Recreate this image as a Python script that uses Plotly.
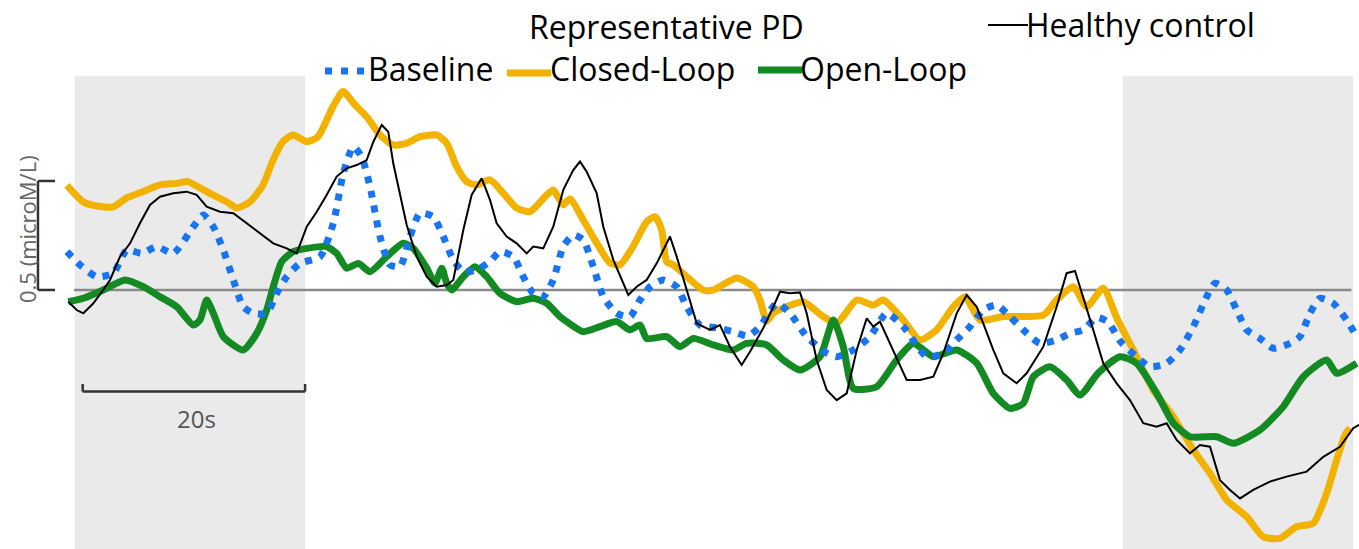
import plotly.graph_objects as go

# ---------------- data (time in s, concentration change in microM/L) ----------------
closed_t = [0.0, 1.44, 2.67, 4.14, 5.37, 6.83, 8.36, 9.87, 10.88, 11.96, 13.13, 14.36, 15.26, 16.46,
            17.63, 18.53, 19.42, 20.32, 21.56, 22.57, 23.92, 24.82, 25.90, 26.95, 28.15, 29.32, 30.55,
            31.74, 33.25, 34.15, 35.04, 35.94, 36.84, 38.04, 39.21, 40.44, 41.64, 43.14, 43.73, 44.63,
            45.23, 46.43, 47.63, 48.83, 49.73, 50.90, 52.13, 52.88, 53.48, 53.93, 54.52, 55.73, 57.22,
            58.12, 60.22, 61.72, 62.32, 62.92, 63.52, 64.72, 66.21, 68.01, 69.22, 71.02, 72.51, 73.41,
            75.21, 76.71, 78.21, 79.70, 80.76, 82.10, 84.20, 87.80, 89.00, 90.49, 91.70, 93.19, 94.40,
            95.89, 97.69, 99.49, 101.29, 102.79, 104.29, 106.09, 107.58, 109.08, 110.58, 112.08, 113.28,
            114.18, 114.93, 115.38]
closed_y = [0.48, 0.405, 0.385, 0.381, 0.422, 0.451, 0.482, 0.489, 0.497, 0.468, 0.436, 0.405, 0.376, 0.405,
            0.482, 0.596, 0.680, 0.711, 0.680, 0.703, 0.841, 0.910, 0.849, 0.795, 0.711, 0.665, 0.673,
            0.703, 0.711, 0.673, 0.566, 0.497, 0.482, 0.505, 0.445, 0.376, 0.359, 0.436, 0.459, 0.390,
            0.417, 0.321, 0.216, 0.124, 0.115, 0.199, 0.313, 0.336, 0.275, 0.130, 0.115, 0.061, 0.0,
            0.0, 0.055, 0.015, -0.046, -0.142, -0.106, -0.077, -0.054, -0.122, -0.153, -0.046, -0.069, -0.046,
            -0.138, -0.229, -0.183, -0.077, -0.031, -0.138, -0.122, -0.115, -0.046, 0.015, -0.077, 0.008, -0.128,
            -0.275, -0.459, -0.581, -0.734, -0.841, -0.963, -1.040, -1.132, -1.139, -1.086, -1.070, -0.933,
            -0.780, -0.665, -0.633]

open_t = [0.12, 1.47, 3.26, 5.22, 6.86, 8.36, 9.87, 11.36, 11.96, 12.56, 13.16, 14.06, 15.85, 17.06,
          17.96, 18.55, 19.31, 20.35, 21.56, 23.35, 24.25, 25.15, 26.20, 27.25, 28.75, 30.24, 31.14,
          32.35, 33.09, 33.70, 34.15, 34.60, 35.64, 36.69, 37.74, 38.94, 40.44, 41.93, 43.14, 44.33,
          44.94, 46.43, 47.93, 49.43, 50.63, 51.53, 52.13, 53.93, 55.13, 56.32, 58.12, 59.92, 61.12,
          62.92, 64.42, 65.92, 67.72, 68.91, 69.81, 70.71, 72.81, 74.61, 76.11, 77.91, 80.01, 81.81,
          83.30, 84.80, 86.00, 86.90, 88.40, 89.90, 91.10, 92.72, 94.69, 96.19, 98.00, 99.49, 100.99,
          103.39, 104.89, 107.28, 109.38, 111.18, 113.28, 114.18, 115.98]
open_y = [-0.054, -0.038, 0.0, 0.046, 0.015, -0.031, -0.077, -0.161, -0.138, -0.046, -0.107, -0.214, -0.275, -0.199,
          -0.092, 0.015, 0.130, 0.176, 0.191, 0.199, 0.168, 0.100, 0.122, 0.084, 0.153, 0.214, 0.191,
          0.100, 0.031, 0.100, 0.031, 0.0, 0.061, 0.107, 0.061, -0.015, -0.054, -0.038, -0.061, -0.122,
          -0.145, -0.191, -0.168, -0.145, -0.183, -0.161, -0.222, -0.214, -0.260, -0.222, -0.252, -0.275, -0.245,
          -0.252, -0.321, -0.367, -0.306, -0.138, -0.260, -0.451, -0.444, -0.321, -0.245, -0.306, -0.275, -0.336,
          -0.474, -0.543, -0.520, -0.398, -0.352, -0.413, -0.482, -0.382, -0.306, -0.336, -0.474, -0.611, -0.673,
          -0.673, -0.703, -0.642, -0.535, -0.398, -0.321, -0.382, -0.336]

base_t = [0.0, 1.17, 2.67, 4.16, 5.37, 6.72, 8.07, 9.56, 11.36, 12.26, 13.16, 14.06, 14.96, 15.85,
          16.75, 17.96, 18.86, 19.76, 20.95, 22.75, 23.95, 24.85, 25.75, 26.50, 27.25, 28.15, 29.05,
          29.95, 30.85, 31.74, 32.94, 33.84, 34.74, 35.64, 36.84, 38.04, 38.94, 40.14, 41.03, 41.93,
          42.83, 43.73, 44.63, 45.53, 46.43, 47.33, 48.23, 49.43, 50.63, 51.53, 52.43, 53.62, 54.83,
          55.73, 56.92, 58.42, 59.92, 61.24, 62.32, 63.82, 65.02, 66.52, 68.32, 69.22, 70.71, 72.21,
          73.71, 75.21, 77.31, 78.81, 80.01, 81.21, 82.40, 83.60, 84.80, 86.00, 87.50, 89.00, 90.20,
          91.39, 92.60, 93.62, 94.78, 96.19, 97.39, 98.89, 100.09, 101.29, 102.49, 103.24, 104.29,
          105.19, 106.09, 107.28, 108.48, 109.98, 110.88, 111.78, 112.68, 113.88, 115.08, 115.98]
base_y = [0.176, 0.115, 0.061, 0.077, 0.183, 0.168, 0.199, 0.168, 0.290, 0.344, 0.290, 0.183, 0.046, -0.077,
          -0.107, -0.107, -0.015, 0.061, 0.122, 0.153, 0.306, 0.535, 0.657, 0.611, 0.474, 0.245, 0.115,
          0.107, 0.245, 0.352, 0.336, 0.245, 0.138, 0.084, 0.092, 0.130, 0.176, 0.153, 0.061, -0.015,
          -0.031, 0.046, 0.199, 0.252, 0.229, 0.107, -0.031, -0.107, -0.122, -0.046, 0.015, 0.046, 0.015,
          -0.077, -0.161, -0.174, -0.191, -0.211, -0.168, -0.061, -0.107, -0.214, -0.290, -0.306, -0.275, -0.214,
          -0.107, -0.168, -0.306, -0.290, -0.229, -0.168, -0.092, -0.069, -0.122, -0.183, -0.245, -0.229, -0.199,
          -0.183, -0.126, -0.147, -0.239, -0.306, -0.352, -0.336, -0.275, -0.168, -0.031, 0.031, 0.0,
          -0.092, -0.183, -0.222, -0.267, -0.245, -0.214, -0.107, -0.038, -0.061, -0.138, -0.214]

healthy_t = [0.12, 0.87, 1.47, 2.37, 3.26, 3.87, 4.77, 5.67, 6.56, 7.46, 8.36, 9.56, 10.76, 11.66,
             12.56, 13.76, 14.96, 16.16, 17.36, 18.55, 19.76, 20.66, 21.56, 22.46, 23.35, 24.25, 25.15,
             26.05, 26.95, 27.55, 28.30, 28.89, 29.34, 29.95, 30.55, 31.45, 32.35, 33.25, 34.15, 34.74,
             35.64, 36.39, 37.29, 38.04, 38.64, 39.54, 40.44, 41.34, 41.93, 42.83, 43.73, 44.63, 45.53,
             46.13, 46.73, 47.63, 48.23, 49.13, 50.03, 50.48, 51.23, 52.13, 53.03, 54.23, 54.83, 55.73,
             56.63, 57.82, 58.72, 59.62, 60.67, 61.42, 62.62, 63.52, 64.12, 65.02, 65.92, 66.52, 67.42,
             68.32, 69.22, 70.12, 71.02, 71.92, 72.51, 73.11, 74.01, 75.51, 76.71, 77.91, 78.81, 80.01,
             80.91, 81.81, 82.40, 83.30, 84.20, 85.40, 86.30, 87.80, 89.00, 89.90, 90.65, 91.39, 92.29,
             93.19, 94.40, 95.59, 96.79, 97.99, 98.89, 99.79, 100.99, 101.89, 102.79, 103.69, 104.59,
             105.49, 106.68, 108.18, 109.68, 111.48, 112.98, 114.48, 115.67, 116.19]
healthy_y = [-0.054, -0.092, -0.107, -0.061, 0.0, 0.046, 0.153, 0.214, 0.306, 0.390, 0.428, 0.444, 0.451, 0.436,
             0.382, 0.359, 0.352, 0.306, 0.260, 0.214, 0.191, 0.168, 0.290, 0.359, 0.436, 0.520, 0.558,
             0.573, 0.596, 0.680, 0.757, 0.726, 0.581, 0.444, 0.298, 0.153, 0.061, 0.015, 0.023, 0.046,
             0.275, 0.436, 0.512, 0.413, 0.306, 0.245, 0.214, 0.168, 0.199, 0.191, 0.290, 0.459, 0.550,
             0.589, 0.543, 0.444, 0.290, 0.138, 0.031, -0.023, 0.015, 0.046, 0.122, 0.245, 0.153, 0.0,
             -0.153, -0.183, -0.161, -0.260, -0.344, -0.283, -0.174, -0.077, -0.008, -0.015, -0.011, -0.107, -0.321,
             -0.459, -0.505, -0.474, -0.275, -0.130, -0.168, -0.145, -0.245, -0.413, -0.413, -0.398, -0.290, -0.107,
             -0.023, -0.077, -0.153, -0.275, -0.382, -0.428, -0.382, -0.260, -0.077, 0.077, 0.087, -0.031, -0.183,
             -0.336, -0.428, -0.505, -0.611, -0.627, -0.611, -0.688, -0.749, -0.711, -0.719, -0.872, -0.917,
             -0.956, -0.917, -0.879, -0.856, -0.833, -0.765, -0.719, -0.634, -0.619]

# stimulation windows (s) and scale bars
stim_windows = [(0.72, 21.40), (94.96, 115.65)]
scale_time = 20      # s
scale_conc = 0.5     # microM/L
title_text = "Representative PD"
series_names = ["Baseline", "Closed-Loop", "Open-Loop", "Healthy control"]

# ---------------- styling ----------------
W, H = 1359, 549
C_ORANGE = "#F2B200"
C_GREEN = "#138A22"
C_BLUE = "#1874F0"
C_BLACK = "#000000"
FONT = "Open Sans"

X_RANGE = [-6.025, 116.19]
Y_RANGE = [-1.188, 1.330]


def px(x):
    return x / W


def py(y):
    return 1 - y / H


fig = go.Figure()

fig.add_trace(go.Scatter(x=closed_t, y=closed_y, mode="lines", name=series_names[1],
                         line=dict(color=C_ORANGE, width=7, shape="spline", smoothing=0.6)))
fig.add_trace(go.Scatter(x=open_t, y=open_y, mode="lines", name=series_names[2],
                         line=dict(color=C_GREEN, width=7, shape="spline", smoothing=0.6)))
fig.add_trace(go.Scatter(x=base_t, y=base_y, mode="lines", name=series_names[0],
                         line=dict(color=C_BLUE, width=7, shape="spline", smoothing=0.6, dash="7px,8px")))
fig.add_trace(go.Scatter(x=healthy_t, y=healthy_y, mode="lines", name=series_names[3],
                         line=dict(color=C_BLACK, width=2)))

shapes = []
# gray stimulation windows
for (a, b) in stim_windows:
    shapes.append(dict(type="rect", xref="x", yref="y", x0=a, x1=b, y0=Y_RANGE[0], y1=0.982,
                       fillcolor="#EAEAEA", line=dict(width=0), layer="below"))
# zero line
shapes.append(dict(type="line", xref="x", yref="y", x0=0.63, x1=115.5, y0=0, y1=0,
                   line=dict(color="#8A8A8A", width=2.5), layer="below"))
# time scale bar
tb0, tb1, tby, tbt = 1.41, 1.41 + scale_time, -0.466, -0.431
shapes += [
    dict(type="line", xref="x", yref="y", x0=tb0, x1=tb1, y0=tby, y1=tby, line=dict(color="#333333", width=2.5)),
    dict(type="line", xref="x", yref="y", x0=tb0, x1=tb0, y0=tby, y1=tbt, line=dict(color="#333333", width=2.5)),
    dict(type="line", xref="x", yref="y", x0=tb1, x1=tb1, y0=tby, y1=tbt, line=dict(color="#333333", width=2.5)),
]
# concentration scale bracket
bx, btick = -2.61, -1.08
shapes += [
    dict(type="line", xref="x", yref="y", x0=bx, x1=bx, y0=0, y1=scale_conc, line=dict(color="#333333", width=2.5)),
    dict(type="line", xref="x", yref="y", x0=bx, x1=btick, y0=0, y1=0, line=dict(color="#333333", width=2.5)),
    dict(type="line", xref="x", yref="y", x0=bx, x1=btick, y0=scale_conc, y1=scale_conc, line=dict(color="#333333", width=2.5)),
]
# legend samples
shapes += [
    dict(type="line", xref="paper", yref="paper", x0=px(325), x1=px(368), y0=py(71), y1=py(71),
         line=dict(color=C_BLUE, width=7, dash="7px,9px")),
    dict(type="line", xref="paper", yref="paper", x0=px(507), x1=px(551), y0=py(73), y1=py(73),
         line=dict(color=C_ORANGE, width=7)),
    dict(type="line", xref="paper", yref="paper", x0=px(758), x1=px(802), y0=py(70), y1=py(70),
         line=dict(color=C_GREEN, width=7)),
    dict(type="line", xref="paper", yref="paper", x0=px(988), x1=px(1028), y0=py(25), y1=py(25),
         line=dict(color=C_BLACK, width=2)),
]

annotations = []


def txt(text, x, y, size=32, color="black", xanchor="left", **kw):
    annotations.append(dict(text=text, xref="paper", yref="paper", x=px(x), y=py(y), showarrow=False,
                            xanchor=xanchor, yanchor="middle", font=dict(family=FONT, size=size, color=color), **kw))


txt(title_text, 666, 26, xanchor="center")
txt(series_names[0], 366, 68)
txt(series_names[1], 548, 68)
txt(series_names[2], 798, 68)
txt(series_names[3], 1024, 24)
txt(f"{scale_time}s", 196, 418, size=24, color="#555555", xanchor="center")
annotations.append(dict(text=f"{scale_conc} (microM/L)", xref="paper", yref="paper", x=px(27), y=py(229),
                        showarrow=False, xanchor="center", yanchor="middle", textangle=-90,
                        font=dict(family=FONT, size=22, color="#666666")))

fig.update_layout(
    width=W, height=H, margin=dict(l=0, r=0, t=0, b=0),
    paper_bgcolor="white", plot_bgcolor="white", showlegend=False,
    xaxis=dict(range=X_RANGE, visible=False, fixedrange=True),
    yaxis=dict(range=Y_RANGE, visible=False, fixedrange=True),
    shapes=shapes, annotations=annotations,
)

fig.write_html("out.html", config={"displayModeBar": False},
               post_script="document.body.style.margin='0';document.body.style.overflow='hidden';")
